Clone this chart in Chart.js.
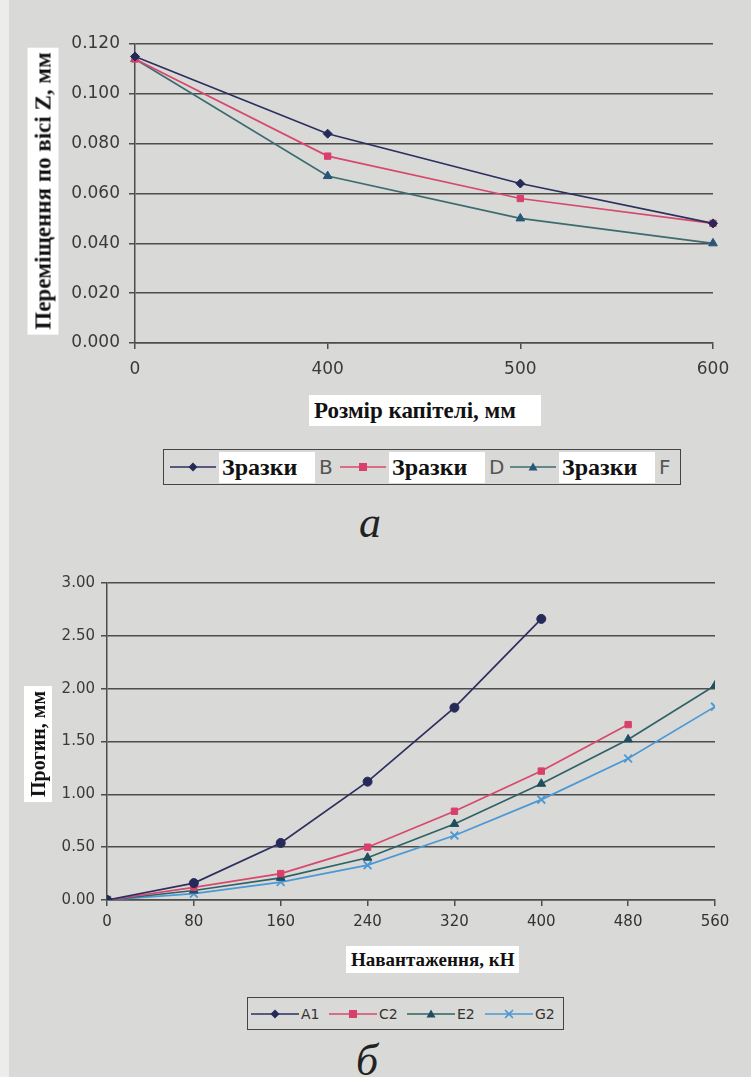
<!DOCTYPE html>
<html><head><meta charset="utf-8">
<script src="https://cdn.jsdelivr.net/npm/chart.js@4.4.1/dist/chart.umd.min.js"></script>
<style>
html,body{margin:0;padding:0;}
body{width:751px;height:1077px;background:#d9d9d7;position:relative;overflow:hidden;}
.strip{position:absolute;left:0;top:0;width:9px;height:1077px;background:#ececea;}
canvas{position:absolute;left:0;}
.ttl{position:absolute;background:#fff;font:bold 23px "Liberation Serif",serif;color:#111;white-space:nowrap;line-height:1;padding:4px 5px;}
.rot{transform:translate(-50%,-50%) rotate(-90deg);}
.legend{position:absolute;border:1.5px solid #444;box-sizing:border-box;display:flex;align-items:center;}
.item{display:flex;align-items:center;}
.zr{background:#fff;font:bold 24px "Liberation Serif",serif;color:#111;padding:2px 3px;box-sizing:border-box;}
.lt{font:20px "DejaVu Sans",sans-serif;color:#555;}
.lb{font:14px "DejaVu Sans",sans-serif;color:#333;}
.cap{position:absolute;font:italic 44px "Liberation Serif",serif;color:#222;transform:translate(-50%,-50%);}
</style>
</head><body>
<div class="strip"></div>
<canvas id="ca" width="751" height="390" style="top:0"></canvas>
<canvas id="cb" width="751" height="380" style="top:560px"></canvas>

<div class="ttl" style="left:309px;top:395px;width:222px;">Розмір капітелі, мм</div>
<div class="ttl rot" style="left:43px;top:191px;">Переміщення по вісі Z, мм</div>
<div class="legend" id="legA" style="left:163px;top:449px;width:518px;height:36px;"></div>
<div class="cap" style="left:370px;top:522px;">а</div>

<div class="ttl" style="left:346px;top:946px;font-size:19px;">Навантаження, кН</div>
<div class="ttl rot" style="left:38px;top:744px;font-size:20px;">Прогин, мм</div>
<div class="legend" id="legB" style="left:247px;top:997px;width:317px;height:33px;"></div>
<div class="cap" style="left:367px;top:1060px;">б</div>

<script>
// ---- Chart a data ----
const capSizes = ['0', '400', '500', '600'];
const seriesNamesA = ['Зразки B', 'Зразки D', 'Зразки F'];
const zrazkyB = [0.115, 0.084, 0.064, 0.048];
const zrazkyD = [0.114, 0.075, 0.058, 0.048];
const zrazkyF = [0.114, 0.067, 0.050, 0.040];

// ---- Chart b data ----
const loads = [0, 80, 160, 240, 320, 400, 480, 560];
const seriesNamesB = ['A1', 'C2', 'E2', 'G2'];
const progA1 = [0, 0.16, 0.54, 1.12, 1.82, 2.66];
const progC2 = [0, 0.12, 0.25, 0.50, 0.84, 1.22, 1.66];
const progE2 = [0, 0.09, 0.21, 0.40, 0.72, 1.10, 1.52, 2.03];
const progG2 = [0, 0.06, 0.17, 0.33, 0.61, 0.95, 1.34, 1.83];

// ---- styles ----
const stylesA = [
  {line:'#2c2f5f', mark:'#262a58', shape:'rectRot', r:4.5},
  {line:'#d8486e', mark:'#d8406a', shape:'rect', r:4.5},
  {line:'#3a6c70', mark:'#285676', shape:'triangle', r:5}
];
const stylesB = [
  {line:'#2c2f5f', mark:'#262a58', shape:'circle', r:4.5},
  {line:'#d8486e', mark:'#d8406a', shape:'rect', r:4.5},
  {line:'#2f6266', mark:'#1f4e5e', shape:'triangle', r:5},
  {line:'#4b98d4', mark:'#4b98d4', shape:'crossRot', r:5.5}
];
const legShapesB = ['rectRot','rect','triangle','crossRot'];

function ds(label, data, st){
  return {label, data, borderColor:st.line, backgroundColor:st.mark, pointBackgroundColor:st.mark,
    pointBorderColor:st.mark, pointStyle:st.shape, pointRadius:st.r, borderWidth:1.7, pointBorderWidth:st.shape==='crossRot'?1.8:1, tension:0};
}
const gridCol = '#4d4d4d';
const tickFontA = {family:'DejaVu Sans', size:17};
const tickFontB = {family:'DejaVu Sans', size:15};

new Chart(document.getElementById('ca'), {
  type:'line',
  data:{labels:capSizes, datasets:[ds(seriesNamesA[0], zrazkyB, stylesA[0]), ds(seriesNamesA[1], zrazkyD, stylesA[1]), ds(seriesNamesA[2], zrazkyF, stylesA[2])]},
  options:{
    responsive:false, animation:false, devicePixelRatio:1,
    layout:{padding:{top:44, right:38, left:0, bottom:0}},
    plugins:{legend:{display:false}, tooltip:{enabled:false}},
    scales:{
      x:{type:'category', offset:false,
        grid:{display:true, drawOnChartArea:false, drawTicks:true, tickLength:6, color:gridCol, lineWidth:1.5},
        border:{display:true, color:gridCol, width:1.5},
        ticks:{color:'#3a3a3a', font:tickFontA, padding:10, maxRotation:0},
        afterFit:s=>{s.height = 390-343;}},
      y:{min:0, max:0.12,
        grid:{color:gridCol, lineWidth:1.5, tickLength:6},
        border:{display:true, color:gridCol, width:1.5},
        ticks:{stepSize:0.02, color:'#3a3a3a', font:tickFontA, padding:9, callback:v=>v.toFixed(3)},
        afterFit:s=>{s.width = 135;}}
    }
  }
});

new Chart(document.getElementById('cb'), {
  type:'line',
  data:{datasets:[
    ds(seriesNamesB[0], progA1.map((v,i)=>({x:loads[i], y:v})), stylesB[0]),
    ds(seriesNamesB[1], progC2.map((v,i)=>({x:loads[i], y:v})), stylesB[1]),
    ds(seriesNamesB[2], progE2.map((v,i)=>({x:loads[i], y:v})), stylesB[2]),
    ds(seriesNamesB[3], progG2.map((v,i)=>({x:loads[i], y:v})), stylesB[3])
  ]},
  options:{
    responsive:false, animation:false, devicePixelRatio:1,
    layout:{padding:{top:23, right:36, left:0, bottom:0}},
    plugins:{legend:{display:false}, tooltip:{enabled:false}},
    scales:{
      x:{type:'linear', min:0, max:560,
        grid:{display:true, drawOnChartArea:false, drawTicks:true, tickLength:6, color:gridCol, lineWidth:1.5},
        border:{display:true, color:gridCol, width:1.5},
        ticks:{stepSize:80, color:'#333', font:tickFontB, padding:7, maxRotation:0},
        afterFit:s=>{s.height = 380-340;}},
      y:{min:0, max:3,
        grid:{color:gridCol, lineWidth:1.5, tickLength:6},
        border:{display:true, color:gridCol, width:1.5},
        ticks:{stepSize:0.5, color:'#3a3a3a', font:tickFontB, padding:6, callback:v=>v.toFixed(2)},
        afterFit:s=>{s.width = 107;}}
    }
  }
});

// ---- HTML legends ----
function markerSvg(shape, col, cx, cy){
  if(shape==='rectRot') return `<polygon points="${cx},${cy-4.5} ${cx+4.5},${cy} ${cx},${cy+4.5} ${cx-4.5},${cy}" fill="${col}"/>`;
  if(shape==='rect') return `<rect x="${cx-4}" y="${cy-4}" width="8" height="8" fill="${col}"/>`;
  if(shape==='triangle') return `<polygon points="${cx},${cy-4.5} ${cx+4.5},${cy+3.5} ${cx-4.5},${cy+3.5}" fill="${col}"/>`;
  return `<path d="M${cx-4} ${cy-4}L${cx+4} ${cy+4}M${cx+4} ${cy-4}L${cx-4} ${cy+4}" stroke="${col}" stroke-width="1.6"/>`;
}
function lineSvg(st, shape, w){
  return `<svg width="${w}" height="16" style="display:block"><line x1="0" y1="8" x2="${w}" y2="8" stroke="${st.line}" stroke-width="1.6"/>${markerSvg(shape, st.mark, w/2, 8)}</svg>`;
}
const legA = document.getElementById('legA');
legA.style.paddingLeft = '6px';
seriesNamesA.forEach((name,i)=>{
  const [w, letter] = name.split(' ');
  const it = document.createElement('div');
  it.className='item'; it.style.width='170px';
  it.innerHTML = lineSvg(stylesA[i], stylesA[i].shape, 46) +
    `<span class="zr" style="margin-left:3px;width:96px;">${w}</span><span class="lt" style="margin-left:4px;">${letter}</span>`;
  legA.appendChild(it);
});
const legB = document.getElementById('legB');
legB.style.paddingLeft = '3px';
seriesNamesB.forEach((name,i)=>{
  const it = document.createElement('div');
  it.className='item'; it.style.width='78px';
  it.innerHTML = lineSvg(stylesB[i], legShapesB[i], 48) + `<span class="lb" style="margin-left:2px;">${name}</span>`;
  legB.appendChild(it);
});
</script>
</body></html>
